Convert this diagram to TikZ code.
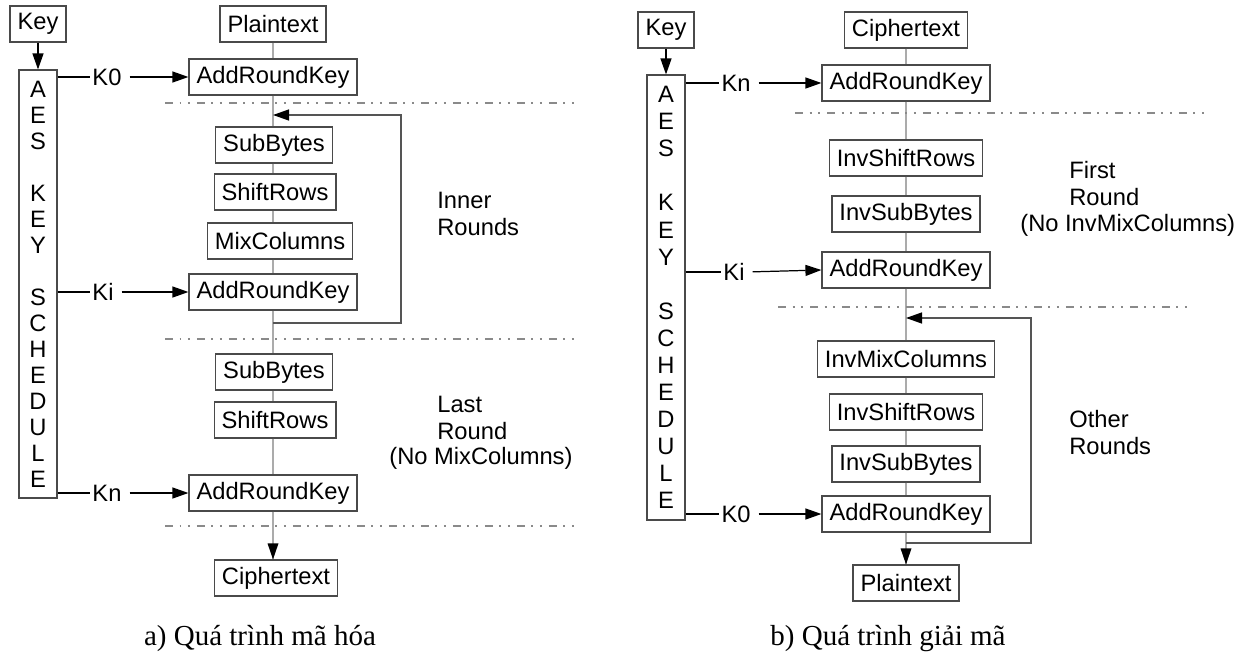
\documentclass[tikz,border=0pt]{standalone}
\usepackage{fontspec}
\setmainfont{Liberation Sans}
\newfontfamily\capfont{Liberation Serif}
\usetikzlibrary{arrows.meta}
\definecolor{boxc}{HTML}{4A4A4A}
\definecolor{flowc}{HTML}{ABABAB}
\definecolor{sepc}{HTML}{8A8A8A}
\definecolor{loopc}{HTML}{555555}
\newcommand\mainsz{\fontsize{13.5}{16}\selectfont}
\begin{document}
\begin{tikzpicture}[x=0.02cm,y=-0.02cm,
  box/.style={draw=boxc,line width=0.7pt,minimum height=0.72cm,inner xsep=0.15cm,inner ysep=0pt,font=\mainsz,fill=white},
  aesbox/.style={draw=boxc,line width=0.7pt,minimum width=0.76cm,inner sep=0pt,align=center,fill=white},
  lab/.style={font=\mainsz,inner sep=1pt},
  txt/.style={font=\mainsz,inner sep=0pt,anchor=west},
  flow/.style={draw=flowc,line width=1.2pt},
  kline/.style={draw=black,line width=0.7pt},
  karrow/.style={draw=black,line width=0.7pt,shorten <=0.12cm},
  loopl/.style={draw=loopc,line width=0.8pt},
  tip/.style={-{Triangle[length=0.32cm,width=0.22cm,color=black]}},
  sep/.style={draw=sepc,line width=0.8pt,dash pattern=on 0.16cm off 0.13cm on 0.04cm off 0.13cm on 0.04cm off 0.14cm},
  captxt/.style={font={\capfont\fontsize{16.5}{20}\selectfont},anchor=base,inner sep=0pt}]
\useasboundingbox (0,0) rectangle (1240,652);

% ================= a) encryption =================
\node[box] (key1) at (38,24) {Key};
\node[aesbox,minimum height=8.56cm,font={\fontsize{13.5}{14.8}\selectfont}] (aes1) at (38,284)
  {A\\E\\S\\~\\K\\E\\Y\\~\\S\\C\\H\\E\\D\\U\\L\\E};
\draw[kline,tip] (key1.south) -- (aes1.north);

\node[box] (pt1) at (273,24) {Plaintext};
\node[box] (ark1) at (273,77) {AddRoundKey};
\node[box] (sb1) at (274,145) {SubBytes};
\node[box] (sr1) at (275,192) {ShiftRows};
\node[box] (mc1) at (280,241) {MixColumns};
\node[box] (ark2) at (273,292) {AddRoundKey};
\node[box] (sb2) at (274,372) {SubBytes};
\node[box] (sr2) at (275,420) {ShiftRows};
\node[box] (ark3) at (273,493) {AddRoundKey};
\node[box] (ct1) at (276,578) {Ciphertext};

\draw[flow] (pt1.south -| ark1) -- (ark1.north);
\draw[flow] (ark1.south) -- (ark1.south |- sb1.north);
\draw[flow] (ark1.south |- sb1.south) -- (ark1.south |- sr1.north);
\draw[flow] (ark1.south |- sr1.south) -- (ark1.south |- mc1.north);
\draw[flow] (ark1.south |- mc1.south) -- (ark2.north);
\draw[flow] (ark2.south) -- (ark2.south |- sb2.north);
\draw[flow] (ark2.south |- sb2.south) -- (ark2.south |- sr2.north);
\draw[flow] (ark2.south |- sr2.south) -- (ark3.north);
\draw[flow] (ark3.south) -- (ark3.south |- ct1.north);
\path[fill=black] (ark3.south |- ct1.north) -- ++(-5.5,-16) -- ++(11,0) -- cycle;

\coordinate (la1) at (273,323);
\coordinate (lb1) at (401,323);
\coordinate (lc1) at (401,115);
\coordinate (ld1) at (273,115);
\draw[loopl,tip] (la1) -- (lb1) -- (lc1) -- (ld1);

\node[lab] (k0a) at (107,77) {K0};
\node[lab] (kia) at (103,292) {Ki};
\node[lab] (kna) at (107,493) {Kn};
\draw[kline] (aes1.east |- k0a) -- (k0a.west);
\draw[karrow,tip] (k0a.east) -- (ark1.west);
\draw[kline] (aes1.east |- kia) -- (kia.west);
\draw[karrow,tip] (kia.east) -- (ark2.west);
\draw[kline] (aes1.east |- kna) -- (kna.west);
\draw[karrow,tip] (kna.east) -- (ark3.west);

\draw[sep] (165,103) -- (578,103);
\draw[sep] (165,339) -- (578,339);
\draw[sep] (165,526) -- (578,526);

\node[txt] (in1) at (437,200) {Inner};
\node[txt] (in2) at (437,227) {Rounds};
\node[txt] (ls1) at (437,404) {Last};
\node[txt] (ls2) at (437,431) {Round};
\node[txt] (ls3) at (389,458) {(No MixColumns)};

\node[captxt] (capa) at (260,645) {a) Quá trình mã hóa};

% ================= b) decryption =================
\node[box] (key2) at (666,30) {Key};
\node[aesbox,minimum height=8.9cm,font={\fontsize{13.5}{15.4}\selectfont}] (aes2) at (666,297.5)
  {A\\E\\S\\~\\K\\E\\Y\\~\\S\\C\\H\\E\\D\\U\\L\\E};
\draw[kline,tip] (key2.south) -- (aes2.north);

\node[box] (ct2) at (906,30) {Ciphertext};
\node[box] (ark4) at (906,83) {AddRoundKey};
\node[box] (isr1) at (906,158) {InvShiftRows};
\node[box] (isb1) at (906,214) {InvSubBytes};
\node[box] (ark5) at (906,270) {AddRoundKey};
\node[box] (imc) at (906,359) {InvMixColumns};
\node[box] (isr2) at (906,412) {InvShiftRows};
\node[box] (isb2) at (906,464) {InvSubBytes};
\node[box] (ark6) at (906,514) {AddRoundKey};
\node[box] (pt2) at (906,583) {Plaintext};

\draw[flow] (ct2.south) -- (ark4.north);
\draw[flow] (ark4.south) -- (isr1.north);
\draw[flow] (isr1.south) -- (isb1.north);
\draw[flow] (isb1.south) -- (ark5.north);
\draw[flow] (ark5.south) -- (imc.north);
\draw[flow] (imc.south) -- (isr2.north);
\draw[flow] (isr2.south) -- (isb2.north);
\draw[flow] (isb2.south) -- (ark6.north);
\draw[flow] (ark6.south) -- (pt2.north);
\path[fill=black] (pt2.north) -- ++(-5.5,-16) -- ++(11,0) -- cycle;

\coordinate (la2) at (906,543);
\coordinate (lb2) at (1031,543);
\coordinate (lc2) at (1031,318);
\coordinate (ld2) at (906,318);
\draw[loopl,tip] (la2) -- (lb2) -- (lc2) -- (ld2);

\node[lab] (knb) at (736,83) {Kn};
\node[lab] (kib) at (734,272) {Ki};
\node[lab] (k0b) at (736,514) {K0};
\draw[kline] (aes2.east |- knb) -- (knb.west);
\draw[karrow,tip] (knb.east) -- (ark4.west);
\draw[kline] (aes2.east |- kib) -- (kib.west);
\draw[karrow,tip] (kib.east) -- (ark5.west);
\draw[kline] (aes2.east |- k0b) -- (k0b.west);
\draw[karrow,tip] (k0b.east) -- (ark6.west);

\draw[sep] (795,113) -- (1210,113);
\draw[sep] (778,307) -- (1192,307);

\node[txt] (fr1) at (1069,170) {First};
\node[txt] (fr2) at (1069,197) {Round};
\node[txt] (fr3) at (1020,225) {(No InvMixColumns)};
\node[txt] (or1) at (1069,419) {Other};
\node[txt] (or2) at (1069,446) {Rounds};

\node[captxt] (capb) at (888,645) {b) Quá trình giải mã};
\end{tikzpicture}
\end{document}
